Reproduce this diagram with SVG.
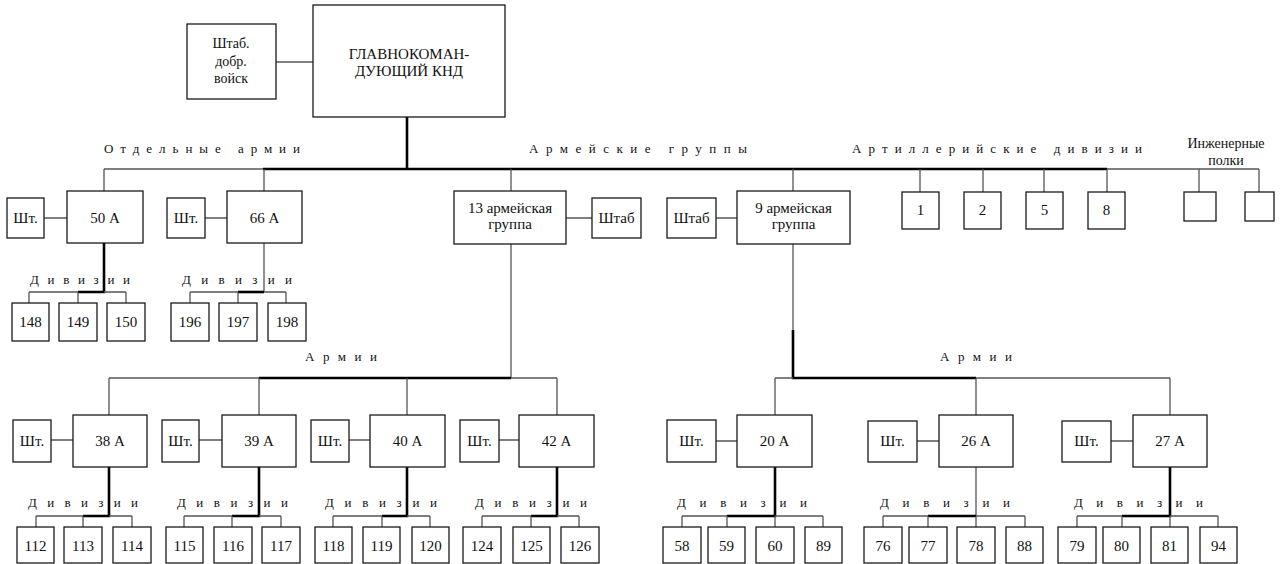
<svg xmlns="http://www.w3.org/2000/svg" width="1280" height="564" viewBox="0 0 1280 564">
<style>
rect{fill:#fff;stroke:#1a1a1a;stroke-width:1.3}
text{font-family:"Liberation Serif","Times New Roman",serif;fill:#111;text-anchor:middle}
.t{font-size:15px}
.s{font-size:14px}
.lab{font-size:13px;text-anchor:start}
.thin{stroke:#555;stroke-width:1.3;fill:none}
.thk{stroke:#000;stroke-width:2.6;fill:none}
</style>
<rect x="0" y="0" width="1280" height="564" style="fill:#fff;stroke:none"/>

<g id="connectors">
<path class="thin" d="M276 62H313"/>
<path class="thk" d="M407 117V169"/>
<path class="thin" d="M104 169H263M1107 169H1259"/>
<path class="thk" d="M263 169H1107"/>
<path class="thin" d="M104 169V191M264 169V191M511 169V191M793 169V191M920 169V192M983 169V192M1044 169V192M1107 169V192M1199 169V192M1259 169V192"/>
<path class="thin" d="M44 218H67M205 218H227M566 218H592M716 218H737"/>
<!-- 50A divisions -->
<path class="thk" d="M104 243V292H78"/>
<path class="thin" d="M29 292H78M104 292H126M29 292V303M78 292V303M126 292V303"/>
<!-- 66A divisions -->
<path class="thin" d="M264 243V292"/>
<path class="thk" d="M238 292H264"/>
<path class="thin" d="M190 292H238M264 292H286M190 292V303M238 292V303M286 292V303"/>
<!-- 13 group armies -->
<path class="thin" d="M511 244V378"/>
<path class="thin" d="M109 378H259M511 378H557"/>
<path class="thk" d="M259 378H511"/>
<path class="thin" d="M109 378V415M259 378V415M407 378V415M557 378V415"/>
<!-- 9 group armies -->
<path class="thin" d="M793 244V330"/>
<path class="thk" d="M793 330V378H976"/>
<path class="thin" d="M775 378H793M976 378H1170"/>
<path class="thin" d="M775 378V415M976 378V415M1170 378V415"/>
<!-- army staff links -->
<path class="thin" d="M51 440H73M199 440H222M349 440H370M499 440H519M716 441H737M917 441H939M1111 441H1133"/>
<!-- 38A -->
<path class="thk" d="M109 467V516H83"/>
<path class="thin" d="M36 516H83M109 516H132M36 516V527M83 516V527M132 516V527"/>
<!-- 39A -->
<path class="thk" d="M259 467V516H232"/>
<path class="thin" d="M184 516H232M259 516H281M184 516V527M232 516V527M281 516V527"/>
<!-- 40A -->
<path class="thk" d="M407 467V516H382"/>
<path class="thin" d="M333 516H382M407 516H430M333 516V527M382 516V527M430 516V527"/>
<!-- 42A -->
<path class="thk" d="M557 467V516H531"/>
<path class="thin" d="M482 516H531M557 516H579M482 516V527M531 516V527M579 516V527"/>
<!-- 20A -->
<path class="thk" d="M775 467V516H727"/>
<path class="thin" d="M682 516H727M775 516H823M682 516V527M727 516V527M775 516V527M823 516V527"/>
<!-- 26A -->
<path class="thin" d="M976 467V516"/>
<path class="thk" d="M928 516H976"/>
<path class="thin" d="M883 516H928M976 516H1025M883 516V527M928 516V527M976 516V527M1025 516V527"/>
<!-- 27A -->
<path class="thk" d="M1170 467V516H1122"/>
<path class="thin" d="M1077 516H1122M1170 516H1218M1077 516V527M1122 516V527M1170 516V527M1218 516V527"/>
</g>

<g id="labels">
<text class="lab" x="104" y="153" textLength="196" lengthAdjust="spacing">Отдельные  армии</text>
<text class="lab" x="529" y="153" textLength="218" lengthAdjust="spacing">Армейские  группы</text>
<text class="lab" x="852" y="153" textLength="290" lengthAdjust="spacing">Артиллерийские  дивизии</text>
<text class="s" x="1226" y="148">Инженерные</text>
<text class="s" x="1226" y="165">полки</text>
<text class="lab" x="305" y="361" textLength="72" lengthAdjust="spacing">Армии</text>
<text class="lab" x="940" y="361" textLength="72" lengthAdjust="spacing">Армии</text>
<text class="lab" x="30" y="284" textLength="100" lengthAdjust="spacing">Дивизии</text>
<text class="lab" x="182" y="284" textLength="110" lengthAdjust="spacing">Дивизии</text>
<text class="lab" x="28" y="507" textLength="110" lengthAdjust="spacing">Дивизии</text>
<text class="lab" x="177" y="507" textLength="111" lengthAdjust="spacing">Дивизии</text>
<text class="lab" x="325" y="507" textLength="112" lengthAdjust="spacing">Дивизии</text>
<text class="lab" x="475" y="507" textLength="112" lengthAdjust="spacing">Дивизии</text>
<text class="lab" x="677" y="507" textLength="130" lengthAdjust="spacing">Дивизии</text>
<text class="lab" x="880" y="507" textLength="130" lengthAdjust="spacing">Дивизии</text>
<text class="lab" x="1074" y="507" textLength="129" lengthAdjust="spacing">Дивизии</text>
</g>

<g id="hq"><rect x="313" y="5" width="192" height="112"/><text class="t" x="409" y="59">ГЛАВНОКОМАН-</text><text class="t" x="409" y="76">ДУЮЩИЙ КНД</text></g>
<g id="staff-dobr"><rect x="187" y="24" width="89" height="75"/><text class="s" x="231" y="48">Штаб.</text><text class="s" x="231" y="66">добр.</text><text class="s" x="231" y="83">войск</text></g>

<g id="a50"><rect x="67" y="191" width="76" height="52"/><text class="t" x="105" y="223">50 А</text></g>
<g id="sht50"><rect x="7" y="198" width="37" height="40"/><text class="t" x="25.5" y="223">Шт.</text></g>
<g id="a66"><rect x="227" y="191" width="75" height="52"/><text class="t" x="264.5" y="223">66 А</text></g>
<g id="sht66"><rect x="167" y="198" width="38" height="40"/><text class="t" x="186" y="223">Шт.</text></g>

<g id="g13"><rect x="454" y="191" width="112" height="53"/><text class="t" x="510" y="213">13 армейская</text><text class="t" x="510" y="229">группа</text></g>
<g id="shtab13"><rect x="592" y="198" width="49" height="40"/><text class="t" x="616.5" y="223">Штаб</text></g>
<g id="shtab9"><rect x="667" y="198" width="49" height="40"/><text class="t" x="691.5" y="223">Штаб</text></g>
<g id="g9"><rect x="737" y="191" width="113" height="53"/><text class="t" x="793.5" y="213">9 армейская</text><text class="t" x="793.5" y="229">группа</text></g>

<g id="art1"><rect x="902" y="192" width="37" height="37"/><text class="t" x="920.5" y="215">1</text></g>
<g id="art2"><rect x="964" y="192" width="37" height="37"/><text class="t" x="982.5" y="215">2</text></g>
<g id="art5"><rect x="1026" y="192" width="37" height="37"/><text class="t" x="1044.5" y="215">5</text></g>
<g id="art8"><rect x="1088" y="192" width="37" height="37"/><text class="t" x="1106.5" y="215">8</text></g>
<g id="eng1"><rect x="1184" y="192" width="32" height="29"/></g>
<g id="eng2"><rect x="1245" y="192" width="29" height="29"/></g>

<g id="d148"><rect x="12" y="303" width="37" height="38"/><text class="t" x="30.5" y="327">148</text></g>
<g id="d149"><rect x="59" y="303" width="38" height="38"/><text class="t" x="78" y="327">149</text></g>
<g id="d150"><rect x="107" y="303" width="38" height="38"/><text class="t" x="126" y="327">150</text></g>
<g id="d196"><rect x="171" y="303" width="38" height="38"/><text class="t" x="190" y="327">196</text></g>
<g id="d197"><rect x="219" y="303" width="38" height="38"/><text class="t" x="238" y="327">197</text></g>
<g id="d198"><rect x="268" y="303" width="38" height="38"/><text class="t" x="287" y="327">198</text></g>

<g id="a38"><rect x="73" y="415" width="74" height="52"/><text class="t" x="110" y="446">38 А</text></g>
<g id="sht38"><rect x="13" y="420" width="38" height="42"/><text class="t" x="32" y="446">Шт.</text></g>
<g id="a39"><rect x="222" y="415" width="74" height="52"/><text class="t" x="259" y="446">39 А</text></g>
<g id="sht39"><rect x="162" y="420" width="37" height="42"/><text class="t" x="180.5" y="446">Шт.</text></g>
<g id="a40"><rect x="370" y="415" width="75" height="52"/><text class="t" x="407.5" y="446">40 А</text></g>
<g id="sht40"><rect x="311" y="420" width="38" height="42"/><text class="t" x="330" y="446">Шт.</text></g>
<g id="a42"><rect x="519" y="415" width="75" height="52"/><text class="t" x="556.5" y="446">42 А</text></g>
<g id="sht42"><rect x="460" y="420" width="39" height="42"/><text class="t" x="479.5" y="446">Шт.</text></g>
<g id="a20"><rect x="737" y="415" width="75" height="52"/><text class="t" x="774.5" y="446">20 А</text></g>
<g id="sht20"><rect x="667" y="420" width="49" height="42"/><text class="t" x="691.5" y="446">Шт.</text></g>
<g id="a26"><rect x="939" y="415" width="74" height="52"/><text class="t" x="976" y="446">26 А</text></g>
<g id="sht26"><rect x="868" y="421" width="49" height="41"/><text class="t" x="892.5" y="446">Шт.</text></g>
<g id="a27"><rect x="1133" y="415" width="74" height="52"/><text class="t" x="1170" y="446">27 А</text></g>
<g id="sht27"><rect x="1062" y="421" width="49" height="41"/><text class="t" x="1086.5" y="446">Шт.</text></g>

<g id="d112"><rect x="17" y="527" width="37" height="36"/><text class="t" x="35.5" y="551">112</text></g>
<g id="d113"><rect x="64" y="527" width="38" height="36"/><text class="t" x="83" y="551">113</text></g>
<g id="d114"><rect x="113" y="527" width="38" height="36"/><text class="t" x="132" y="551">114</text></g>
<g id="d115"><rect x="166" y="527" width="37" height="36"/><text class="t" x="184.5" y="551">115</text></g>
<g id="d116"><rect x="214" y="527" width="38" height="36"/><text class="t" x="233" y="551">116</text></g>
<g id="d117"><rect x="262" y="527" width="38" height="36"/><text class="t" x="281" y="551">117</text></g>
<g id="d118"><rect x="315" y="527" width="37" height="36"/><text class="t" x="333.5" y="551">118</text></g>
<g id="d119"><rect x="363" y="527" width="37" height="36"/><text class="t" x="381.5" y="551">119</text></g>
<g id="d120"><rect x="412" y="527" width="37" height="36"/><text class="t" x="430.5" y="551">120</text></g>
<g id="d124"><rect x="463" y="527" width="38" height="36"/><text class="t" x="482" y="551">124</text></g>
<g id="d125"><rect x="513" y="527" width="37" height="36"/><text class="t" x="531.5" y="551">125</text></g>
<g id="d126"><rect x="561" y="527" width="38" height="36"/><text class="t" x="580" y="551">126</text></g>
<g id="d58"><rect x="663" y="527" width="38" height="36"/><text class="t" x="682" y="551">58</text></g>
<g id="d59"><rect x="708" y="527" width="37" height="36"/><text class="t" x="726.5" y="551">59</text></g>
<g id="d60"><rect x="756" y="527" width="38" height="36"/><text class="t" x="775" y="551">60</text></g>
<g id="d89"><rect x="805" y="527" width="37" height="36"/><text class="t" x="823.5" y="551">89</text></g>
<g id="d76"><rect x="864" y="527" width="38" height="36"/><text class="t" x="883" y="551">76</text></g>
<g id="d77"><rect x="909" y="527" width="38" height="36"/><text class="t" x="928" y="551">77</text></g>
<g id="d78"><rect x="957" y="527" width="38" height="36"/><text class="t" x="976" y="551">78</text></g>
<g id="d88"><rect x="1006" y="527" width="37" height="36"/><text class="t" x="1024.5" y="551">88</text></g>
<g id="d79"><rect x="1058" y="527" width="38" height="36"/><text class="t" x="1077" y="551">79</text></g>
<g id="d80"><rect x="1103" y="527" width="37" height="36"/><text class="t" x="1121.5" y="551">80</text></g>
<g id="d81"><rect x="1151" y="527" width="37" height="36"/><text class="t" x="1169.5" y="551">81</text></g>
<g id="d94"><rect x="1200" y="527" width="37" height="36"/><text class="t" x="1218.5" y="551">94</text></g>
</svg>
